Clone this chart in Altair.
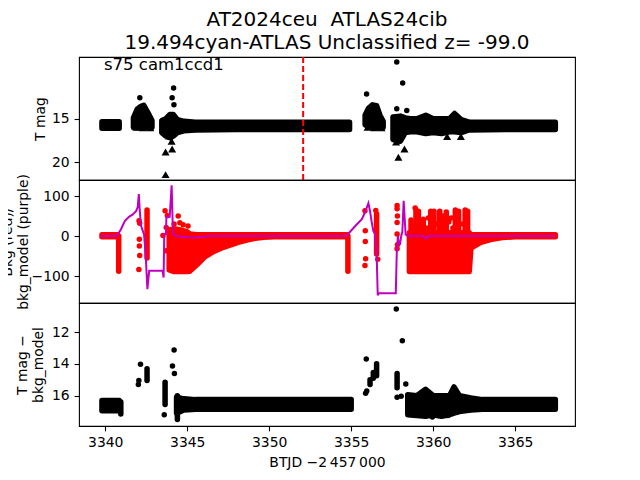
import altair as alt
import pandas as pd

FONT = "DejaVu Sans"
X_DOMAIN = [3338.4, 3368.65]
X_TICKS = [3340, 3345, 3350, 3355, 3360, 3365]

# ---------------- top panel : T mag ----------------
top_band_seg = ["A", "A",
                "B", "B", "B", "B", "B", "B",
                "C", "C", "C", "C", "C", "C", "C", "C", "C", "C",
                "D", "D", "D", "D", "D", "D",
                "E", "E", "E", "E", "E", "E", "E", "E", "E", "E", "E", "E", "E", "E"]
top_band_t = [3339.8, 3340.85,
              3341.72, 3341.95, 3342.15, 3342.35, 3342.6, 3342.85,
              3343.45, 3343.7, 3343.95, 3344.15, 3344.4, 3344.8, 3345.5, 3348.0, 3351.0, 3354.9,
              3355.85, 3356.05, 3356.3, 3356.55, 3356.75, 3356.95,
              3357.55, 3358.0, 3358.3, 3358.6, 3359.0, 3359.55, 3360.0, 3360.5, 3361.0, 3361.3,
              3361.7, 3362.2, 3364.5, 3367.45]
top_band_lo = [15.35, 15.35,
               14.9, 13.9, 13.6, 13.45, 14.3, 15.2,
               15.2, 15.0, 14.5, 14.5, 15.1, 15.3, 15.4, 15.4, 15.4, 15.4,
               14.6, 13.8, 13.4, 13.5, 14.6, 15.3,
               14.8, 14.7, 14.9, 15.0, 15.0, 14.6, 15.0, 15.0, 15.0, 14.4, 15.1, 15.4, 15.4, 15.4]
top_band_hi = [16.1, 16.1,
               16.0, 16.05, 16.0, 15.95, 16.05, 16.0,
               16.6, 17.0, 17.2, 17.0, 16.6, 16.4, 16.3, 16.25, 16.25, 16.25,
               15.7, 15.9, 15.95, 16.0, 16.05, 16.0,
               17.4, 17.6, 16.6, 16.5, 16.5, 16.7, 16.6, 16.7, 16.5, 16.5, 16.6, 16.3, 16.25, 16.25]
top_pt_t = [3342.11, 3344.17, 3344.08, 3344.19, 3355.94, 3357.78, 3358.14, 3357.78, 3358.39]
top_pt_m = [12.58, 11.46, 12.58, 13.39, 12.15, 8.46, 10.88, 13.85, 14.04]
top_tri_t = [3341.9, 3342.3, 3342.75, 3343.68, 3344.08, 3344.05, 3343.68, 3343.9,
             3356.0, 3356.4, 3356.85, 3357.88, 3358.25, 3357.74, 3360.85, 3361.69]
top_tri_m = [16.0, 16.05, 16.05, 18.85, 18.5, 17.6, 21.45, 17.0,
             16.0, 16.05, 16.05, 19.45, 18.5, 17.69, 17.05, 17.05]
marker_t = [3352.07]

# ---------------- middle panel : background ----------------
mid_band_seg = ["R1", "R1",
                "R2", "R2", "R2", "R2", "R2", "R2", "R2", "R2", "R2", "R2", "R2", "R2", "R2",
                "R2", "R2", "R2",
                "R3", "R3", "R3", "R3", "R3", "R3", "R3", "R3"]
mid_band_t = [3339.8, 3340.75,
              3343.9, 3344.2, 3344.6, 3345.0, 3345.15, 3345.56, 3346.07, 3346.59, 3347.1, 3347.61,
              3348.1, 3348.63, 3349.15, 3349.65, 3350.3, 3354.75,
              3358.55, 3362.2, 3362.3, 3362.9, 3363.5, 3364.2, 3365.0, 3367.45]
mid_band_lo = [-2, -2,
               -85, -89, -89, -89, -88, -73, -52, -39, -30, -23, -16, -10, -6, -3, -2, -2,
               -89, -89, -30, -16, -9, -4, -2, -2]
mid_band_hi = [3, 3,
               15, 18, 15, 10, 5, 3, 3, 3, 3, 3, 3, 3, 3, 3, 3, 3,
               8, 8, 3, 3, 3, 3, 3, 3]
mid_col_t = [3340.82, 3342.55, 3354.8, 3356.55,
             3358.65, 3358.95, 3359.1, 3359.4, 3359.85, 3360.05, 3360.4, 3360.6, 3360.8,
             3361.35, 3361.55, 3361.95, 3362.1]
mid_col_lo = [-88, -55, -88, -45, 0, 0, 0, 0, 0, 0, 0, 0, 0, 0, 0, 0, 0]
mid_col_hi = [0, 65, 0, 55, 40, 65, 62, 42, 62, 62, 62, 50, 60, 65, 62, 65, 62]
mid_pt_t = [3342.06, 3342.1, 3342.08, 3342.08, 3342.1, 3342.05, 3343.65, 3343.79, 3343.72,
            3343.52, 3343.72, 3344.2, 3344.45, 3344.55, 3344.75, 3345.05, 3355.84, 3355.86,
            3355.86, 3355.88, 3355.84, 3356.5, 3356.62, 3357.8, 3357.8, 3357.82, 3357.8,
            3357.8, 3357.82, 3357.8, 3358.9,
            3358.8, 3359.25, 3359.6, 3359.7, 3359.95, 3360.2, 3360.7, 3360.95, 3361.1,
            3361.2, 3361.8, 3362.05]
mid_pt_v = [38, 32, -8, -25, -49, -84, 63, 51, 21, 1, -37, 30, 50, 33, 28, 25, 63, 13, -14,
            -57, -74, 64, -58, 76, 68, 50, 34, 5, -22, -32, 70,
            25, 30, 20, 45, 40, 30, 20, 35, 45, 20, 30, 40]
model_t = [3339.7, 3340.7, 3340.96, 3341.2, 3341.45, 3341.68, 3341.88, 3341.98, 3342.05,
           3342.1, 3342.18, 3342.37, 3342.47, 3342.57, 3342.68, 3343.5, 3343.56, 3343.6,
           3343.7, 3343.73, 3343.93, 3344.05, 3344.13, 3344.3, 3345.0, 3345.5, 3346.5,
           3354.7, 3355.25, 3355.65, 3355.85, 3356.05, 3356.15, 3356.25, 3356.35, 3356.45,
           3356.55, 3356.62, 3356.68, 3357.72, 3357.78, 3357.85, 3357.9, 3357.98, 3358.05,
           3358.12, 3358.2, 3358.27, 3358.32, 3358.45, 3359.4, 3359.55, 3359.7, 3367.45]
model_v = [0, 0, 17, 38, 48, 54, 62, 72, 105,
           67, 26, 3, -49, -133, -87, -87, -104, 5,
           5, 47, 48, 127, 5, 0, -3, -4, 0,
           0, 25, 42, 60, 82, 62, 35, 13, 5,
           -42, -148, -143, -143, -41, 0, -20, -20, 0,
           10, 88, 40, 4, 0, 0, -7, 0, 0]

# ---------------- bottom panel : T mag - bkg_model ----------------
bot_band_seg = ["A", "A", "C", "C", "C", "C",
                "E", "E", "E", "E", "E", "E", "E", "E", "E", "E", "E"]
bot_band_t = [3339.8, 3340.85, 3344.35, 3344.8, 3345.5, 3355.0,
              3358.45, 3359.0, 3359.54, 3360.0, 3360.5, 3361.0, 3361.27, 3361.6, 3362.3,
              3363.0, 3367.45]
bot_band_lo = [16.3, 16.3, 16.1, 16.2, 16.25, 16.25,
               15.95, 16.0, 15.6, 16.0, 16.0, 16.0, 15.45, 16.0, 16.15, 16.25, 16.25]
bot_band_hi = [16.95, 16.95, 17.1, 16.9, 16.85, 16.85,
               17.2, 17.25, 17.3, 17.2, 17.3, 17.2, 17.1, 17.0, 16.9, 16.85, 16.85]
bot_col_t = [3340.95, 3342.55, 3343.65, 3344.4, 3356.15, 3356.35, 3356.55, 3357.8,
             3359.95, 3360.6, 3360.9]
bot_col_lo = [16.4, 14.3, 15.15, 16.0, 15.0, 14.55, 14.0, 14.6, 16.8, 16.8, 16.8]
bot_col_hi = [17.15, 15.05, 16.55, 17.5, 15.3, 14.9, 14.75, 15.5, 17.35, 17.25, 17.25]
bot_pt_t = [3342.15, 3342.02, 3342.05, 3343.6, 3344.2, 3344.1, 3344.22, 3355.92, 3355.95,
            3355.88, 3357.75, 3358.12, 3358.33, 3357.8, 3358.05]
bot_pt_m = [14.03, 15.3, 15.05, 17.2, 13.13, 14.14, 14.6, 13.69, 15.7, 15.85, 10.55, 12.54,
            15.26, 16.1, 16.04]

# ---------------- build ----------------
W, H = 496, 123
DOT = 30
SW = 5.5
xs = alt.Scale(domain=X_DOMAIN, nice=False, zero=False)
minus = "replace(datum.label, '-', '\u2212')"


def X(axis):
    return alt.X("t:Q", scale=xs, axis=axis)


def band_layers(seg, t, lo, hi, ct, clo, chi, pt, pv, color, ys, yaxis, xaxis):
    band = pd.DataFrame({"seg": seg, "t": t, "lo": lo, "hi": hi})
    cols = pd.DataFrame({"t": ct, "lo": clo, "hi": chi})
    pts = pd.DataFrame({"t": pt, "lo": pv})
    layers = [
        alt.Chart(band).mark_area(color=color, stroke=color, strokeWidth=SW,
                                  strokeJoin="round", opacity=1).encode(
            x=X(xaxis), y=alt.Y("lo:Q", scale=ys, axis=yaxis), y2="hi:Q",
            detail="seg:N"),
    ]
    if len(ct):
        layers.append(alt.Chart(cols).mark_rule(color=color, strokeWidth=SW,
                                                strokeCap="round").encode(
            x=X(xaxis), y=alt.Y("lo:Q", scale=ys, axis=yaxis), y2="hi:Q"))
    layers.append(alt.Chart(pts).mark_circle(color=color, size=DOT, opacity=1).encode(
        x=X(xaxis), y=alt.Y("lo:Q", scale=ys, axis=yaxis)))
    return layers


# top
top_ys = alt.Scale(domain=[7.88, 22.07], reverse=True, nice=False, zero=False)
top_axis = alt.Axis(values=[15, 20], title="T mag", titleX=-32, titleBaseline="bottom")
top_layers = band_layers(top_band_seg, top_band_t, top_band_lo, top_band_hi,
                         [], [], [], top_pt_t, top_pt_m, "black", top_ys, top_axis, None)
tri = pd.DataFrame({"t": top_tri_t, "lo": top_tri_m})
top_layers.append(alt.Chart(tri).mark_point(shape="triangle-up", filled=True, size=64,
                                            color="black", opacity=1).encode(
    x=X(None), y=alt.Y("lo:Q", scale=top_ys, axis=top_axis)))
top_layers.append(alt.Chart(pd.DataFrame({"t": marker_t})).mark_rule(
    color="red", strokeWidth=2, strokeDash=[6, 3]).encode(x=X(None)))
top_layers.append(alt.Chart(pd.DataFrame({"txt": ["s75 cam1ccd1"]})).mark_text(
    align="left", baseline="alphabetic", fontSize=16.5, font=FONT, color="black").encode(
    text="txt:N", x=alt.value(25), y=alt.value(12.5)))
top = alt.layer(*top_layers).properties(width=W, height=H)

# middle
mid_ys = alt.Scale(domain=[-167.5, 140], nice=False, zero=False)
mid_axis = alt.Axis(values=[-100, 0, 100], title=["Bkg (red)/", "bkg_model (purple)"],
                    titleX=-65, titleBaseline="bottom", labelExpr=minus)
mid_layers = band_layers(mid_band_seg, mid_band_t, mid_band_lo, mid_band_hi,
                         mid_col_t, mid_col_lo, mid_col_hi, mid_pt_t, mid_pt_v,
                         "#ff0000", mid_ys, mid_axis, None)
model = pd.DataFrame({"t": model_t, "lo": model_v})
mid_layers.append(alt.Chart(model).mark_line(color="#bf00bf", strokeWidth=2).encode(
    x=X(None), y=alt.Y("lo:Q", scale=mid_ys, axis=mid_axis), order="t:Q"))
mid = alt.layer(*mid_layers).properties(width=W, height=H)

# bottom
bot_ys = alt.Scale(domain=[10.17, 17.91], reverse=True, nice=False, zero=False)
bot_axis = alt.Axis(values=[12, 14, 16], title=["T mag \u2212", "bkg_model"],
                    titleX=-50, titleBaseline="bottom")
bot_xaxis = alt.Axis(values=X_TICKS, format="d", title="BTJD \u22122\u2009457\u2009000",
                     titlePadding=6)
bot_layers = band_layers(bot_band_seg, bot_band_t, bot_band_lo, bot_band_hi,
                         bot_col_t, bot_col_lo, bot_col_hi, bot_pt_t, bot_pt_m,
                         "black", bot_ys, bot_axis, bot_xaxis)
bot = alt.layer(*bot_layers).properties(width=W, height=H)

chart = alt.vconcat(top, mid, bot, spacing=0, bounds="flush").properties(
    title=alt.TitleParams(
        ["AT2024ceu\u00a0 ATLAS24cib", "19.494cyan-ATLAS Unclassified z= -99.0"],
        fontSize=20, font=FONT, fontWeight="normal", color="black",
        anchor="middle", frame="group", lineHeight=23, offset=2),
    padding={"left": -9, "top": 2, "right": 10, "bottom": 5},
).configure_view(
    stroke="black", strokeWidth=1.1
).configure_axis(
    domain=False, grid=False, tickColor="black", tickSize=4.9, tickWidth=1.1,
    labelColor="black", labelFont=FONT, labelFontSize=13.9, labelPadding=4.9,
    titleColor="black", titleFont=FONT, titleFontSize=13.9, titleFontWeight="normal",
    titleLineHeight=16
).configure_concat(spacing=0)

chart.save("out.html", embed_options={"renderer": "svg", "actions": False})
